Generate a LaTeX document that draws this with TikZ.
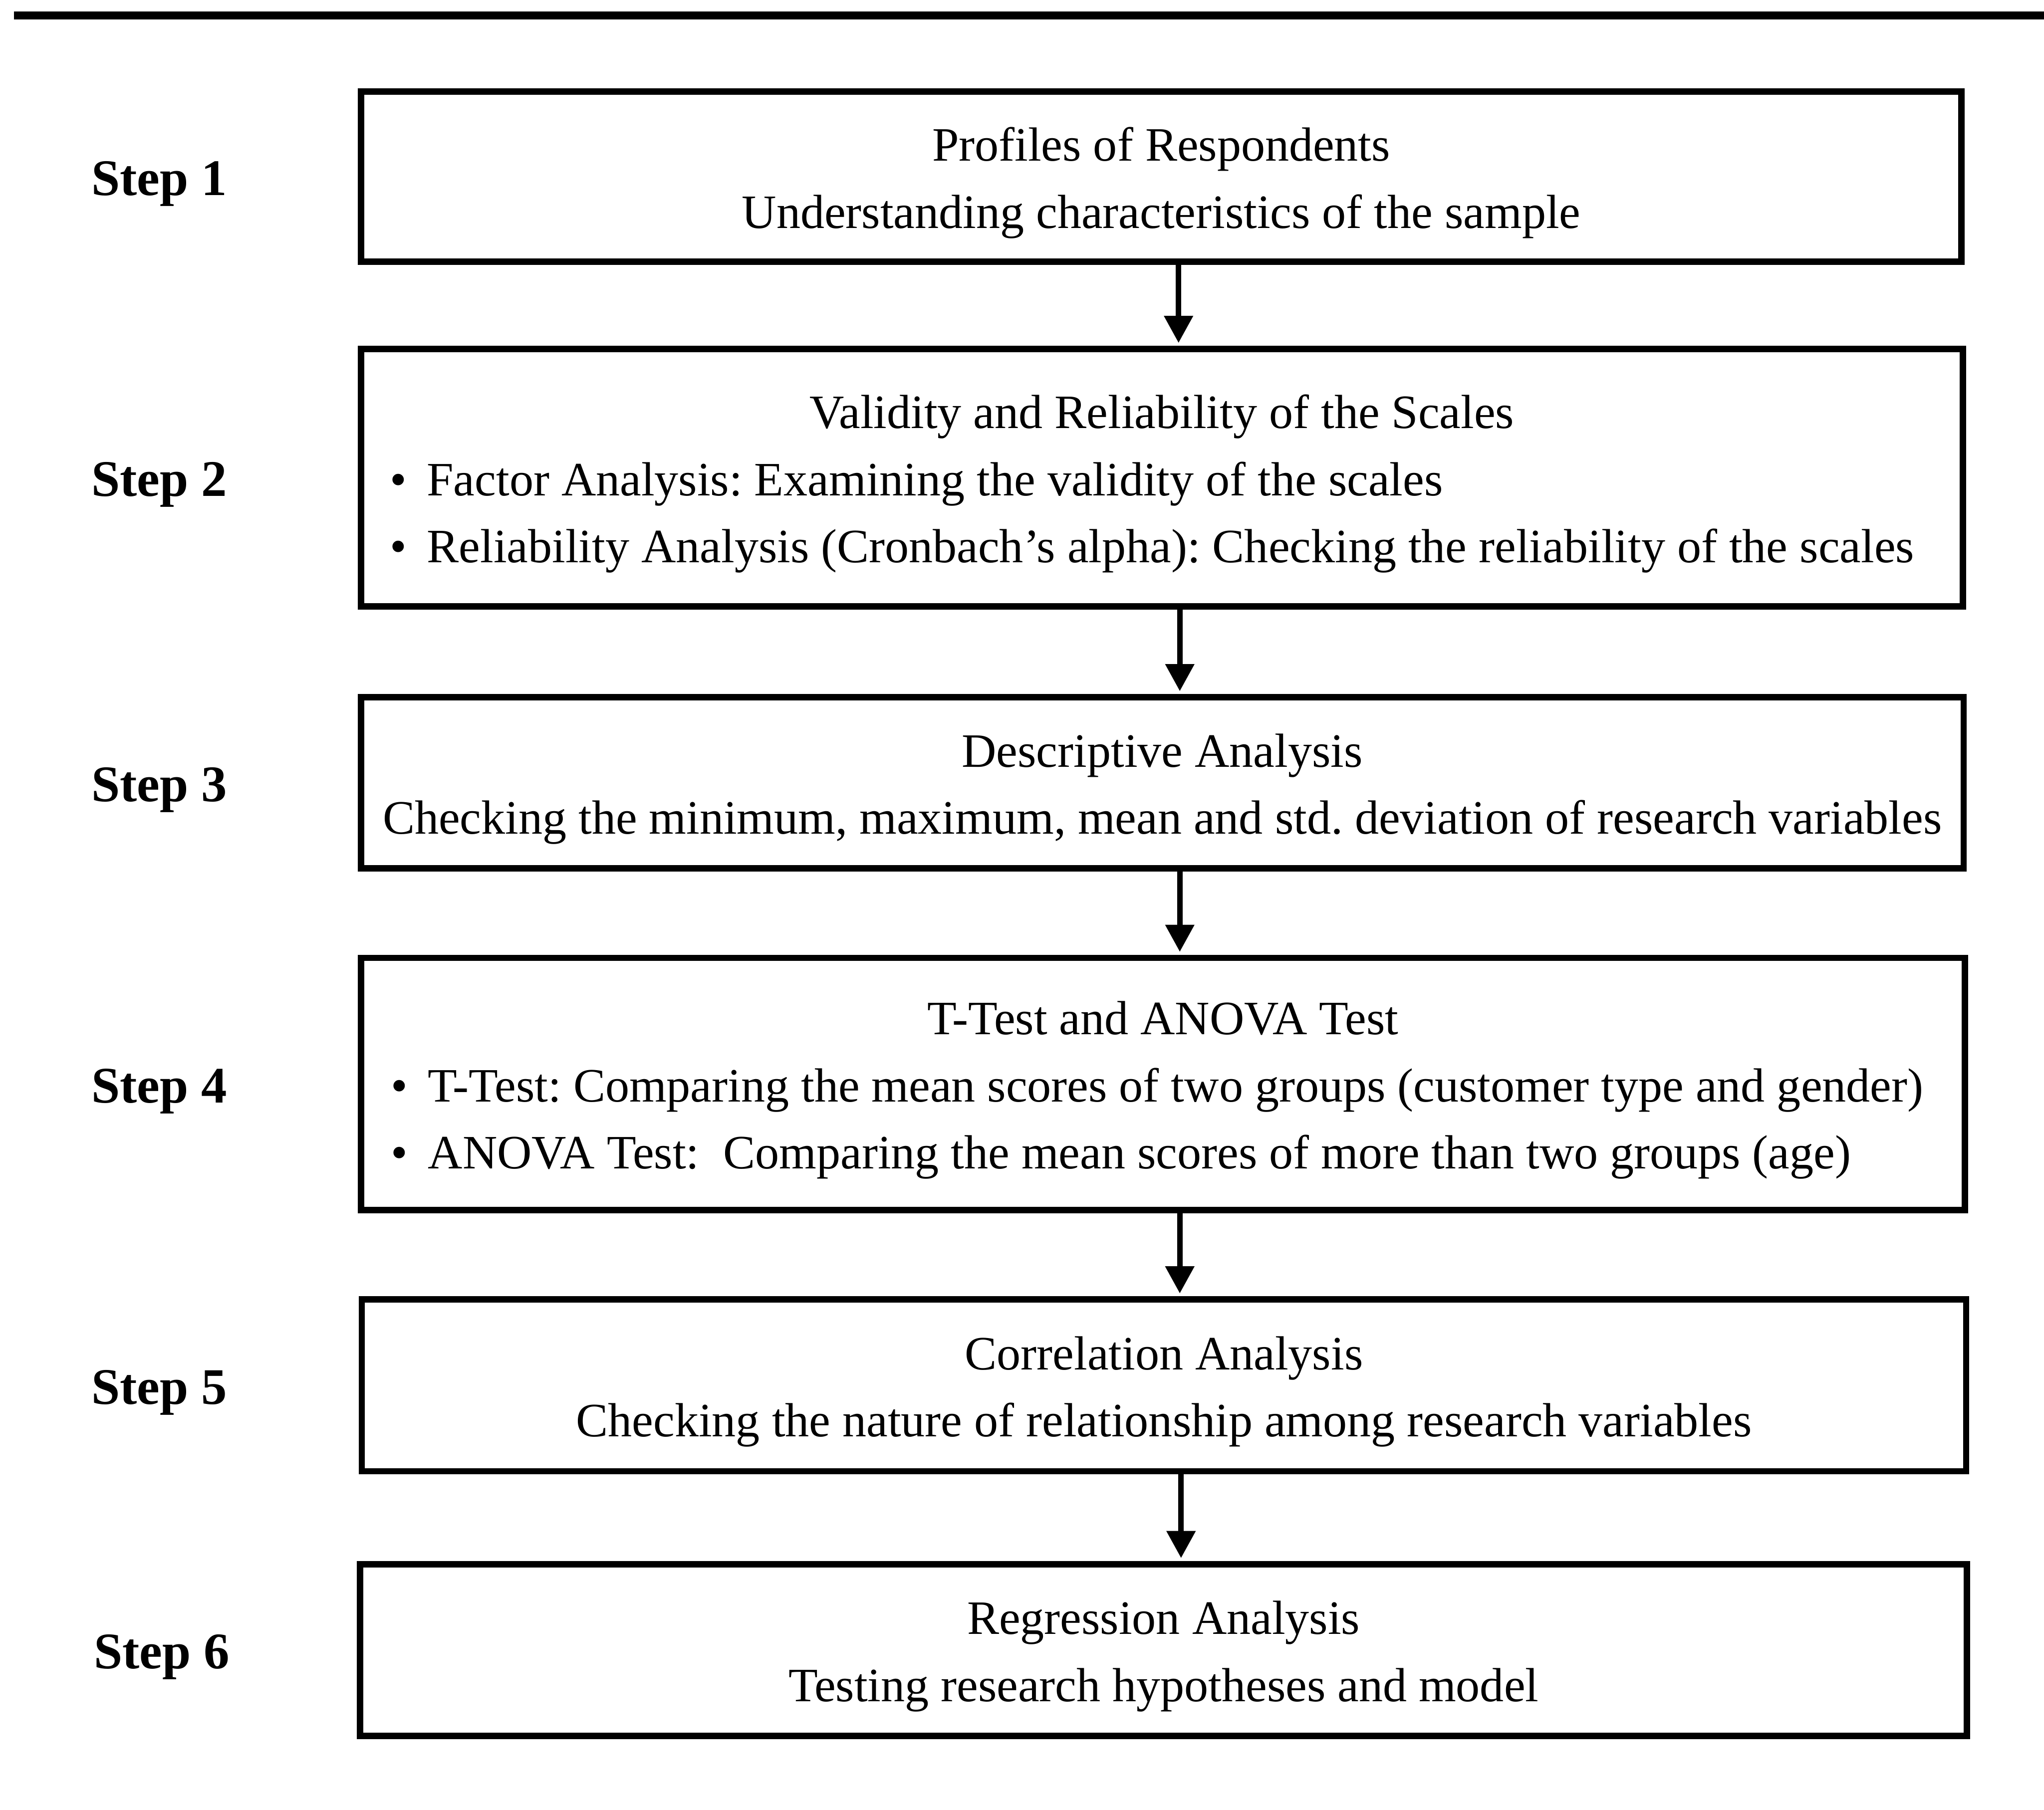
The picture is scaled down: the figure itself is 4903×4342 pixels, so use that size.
\documentclass[tikz,border=0pt]{standalone}
\usepackage{fontspec}
\setmainfont{Liberation Serif}
\usetikzlibrary{arrows.meta}
\begin{document}
\begin{tikzpicture}[x=0.01cm,y=-0.01cm,
  stepbox/.style={draw, line width=4.3pt, rectangle, inner sep=0pt},
  boxtext/.style={inner sep=0pt, yshift=-0.15cm,
    font=\frenchspacing\fontsize{32.7}{45.8}\selectfont},
  steplabel/.style={anchor=base west, inner sep=0pt,
    font=\fontsize{35}{40}\selectfont\bfseries},
  flow/.style={line width=3.7pt, shorten >=0.07cm,
    -{Triangle[width=0.67cm,length=0.65cm]}}]
\useasboundingbox (0,0) rectangle (4903,4342);
\newcommand{\bline}[1]{\makebox[37.6cm][l]{\hspace*{0.3cm}\textbullet\hspace{0.48cm}#1}}

% top rule
\draw[line width=5.4pt] (34,37) -- (4903,37);

% boxes
\node[stepbox, minimum width=38.37cm, minimum height=4.08cm] (b1) at (2785.5,424) {};
\node[stepbox, minimum width=38.40cm, minimum height=6.17cm] (b2) at (2787,1146) {};
\node[stepbox, minimum width=38.42cm, minimum height=4.10cm] (b3) at (2788,1878) {};
\node[stepbox, minimum width=38.45cm, minimum height=6.05cm] (b4) at (2789.5,2601) {};
\node[stepbox, minimum width=38.46cm, minimum height=4.12cm] (b5) at (2792,3324) {};
\node[stepbox, minimum width=38.52cm, minimum height=4.12cm] (b6) at (2791,3959) {};

% box texts
\node[boxtext, align=center] (t1) at (b1.center)
  {Profiles of Respondents\\Understanding characteristics of the sample};
\node[boxtext, align=left] (t2) at (b2.center)
  {\makebox[37.6cm]{Validity and Reliability of the Scales}\\
   \bline{Factor Analysis: Examining the validity of the scales}\\
   \bline{Reliability Analysis (Cronbach’s alpha): Checking the reliability of the scales}};
\node[boxtext, align=center] (t3) at (b3.center)
  {Descriptive Analysis\\Checking the minimum, maximum, mean and std. deviation of research variables};
\node[boxtext, align=left] (t4) at (b4.center)
  {\makebox[37.6cm]{T-Test and ANOVA Test}\\
   \bline{T-Test: Comparing the mean scores of two groups (customer type and gender)}\\
   \bline{ANOVA Test:\ \ Comparing the mean scores of more than two groups (age)}};
\node[boxtext, align=center] (t5) at (b5.center)
  {Correlation Analysis\\Checking the nature of relationship among research variables};
\node[boxtext, align=center] (t6) at (b6.center)
  {Regression Analysis\\Testing research hypotheses and model};

% step labels
\node[steplabel] (s1) at (219,469) {Step 1};
\node[steplabel] (s2) at (219,1191) {Step 2};
\node[steplabel] (s3) at (219,1923) {Step 3};
\node[steplabel] (s4) at (219,2646) {Step 4};
\node[steplabel] (s5) at (219,3369) {Step 5};
\node[steplabel] (s6) at (225,4003) {Step 6};

% arrow columns
\coordinate (ax1) at (2827,0);
\coordinate (ax2) at (2830,0);
\coordinate (ax3) at (2830,0);
\coordinate (ax4) at (2830,0);
\coordinate (ax5) at (2833,0);

\draw[flow] (b1.south -| ax1) -- (b2.north -| ax1);
\draw[flow] (b2.south -| ax2) -- (b3.north -| ax2);
\draw[flow] (b3.south -| ax3) -- (b4.north -| ax3);
\draw[flow] (b4.south -| ax4) -- (b5.north -| ax4);
\draw[flow] (b5.south -| ax5) -- (b6.north -| ax5);
\end{tikzpicture}
\end{document}
